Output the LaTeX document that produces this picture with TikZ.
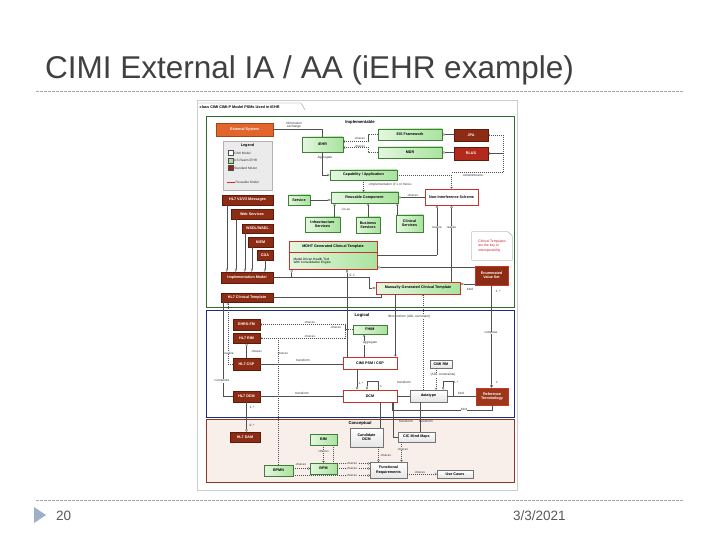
\documentclass[tikz,border=0pt]{standalone}
\usepackage{fontspec}
\setmainfont{Liberation Sans}
\usetikzlibrary{arrows.meta, positioning, calc}
\definecolor{titleGray}{HTML}{404040}
\definecolor{ruleGray}{HTML}{A6A6A6}
\definecolor{footGray}{HTML}{595959}
\definecolor{triBlue}{HTML}{9DB0C8}
\definecolor{grnLight}{HTML}{E4F7DF}
\definecolor{grnFill}{HTML}{A9E39E}
\definecolor{grnDark}{HTML}{3F7F38}
\definecolor{stdFill}{HTML}{8C2C14}
\definecolor{stdDark}{HTML}{5E1A0A}
\definecolor{rlusFill}{HTML}{B32A1C}
\definecolor{extFill}{HTML}{E2652C}
\definecolor{reuseRed}{HTML}{C8322A}
\definecolor{pkgGreen}{HTML}{2E6B2E}
\definecolor{pkgBlue}{HTML}{1E2C80}
\definecolor{pkgBrown}{HTML}{8A3A22}
\definecolor{concFill}{HTML}{F8EEEA}
\definecolor{lineGray}{HTML}{505050}
\definecolor{noteRed}{HTML}{C8202A}

\begin{document}
\begin{tikzpicture}[x=1pt, y=-1pt,
    sz/.style 2 args={minimum width=#1pt, minimum height=#2pt},
    boxfont/.style={font=\fontsize{3.7}{4.2}\selectfont\bfseries},
    lbl/.style={font=\fontsize{3.2}{3.6}\selectfont, inner sep=0.3pt, text=black!80},
    grnbox/.style={draw=grnDark, line width=0.4pt, left color=grnLight, right color=grnFill,
        boxfont, inner sep=0.5pt, align=center},
    stdbox/.style={draw=stdDark, line width=0.4pt, fill=#1, text=white, boxfont,
        inner sep=0.5pt, align=center},
    stdbox/.default=stdFill,
    cimibox/.style={draw=reuseRed, line width=0.8pt, fill=white, boxfont, inner sep=0.5pt, align=center},
    reusebox/.style={grnbox, draw=reuseRed, line width=0.8pt},
    plainbox/.style={draw=black!55, line width=0.4pt, top color=white, bottom color=black!10,
        boxfont, inner sep=0.5pt, align=center},
    pkg/.style={draw=#1, line width=0.7pt, inner sep=0pt},
    pkgname/.style={font=\fontsize{4.2}{4.7}\selectfont\bfseries, inner sep=0.5pt},
    assoc/.style={draw=lineGray, line width=0.3pt},
    dep/.style={assoc, dash pattern=on 1.2pt off 0.8pt, -{Straight Barb[length=1.6pt,width=2.4pt]}},
    real/.style={dep, -{Triangle[open,length=2.2pt,width=2.6pt]}},
    gen/.style={assoc, -{Triangle[open,length=2.2pt,width=2.6pt]}},
    aggs/.style={assoc, {Diamond[open,length=3.4pt,width=2.2pt]}-},
    agge/.style={assoc, -{Diamond[open,length=3.4pt,width=2.2pt]}},
    comp/.style={assoc, -{Diamond[length=3.4pt,width=2.4pt]}},
    rule/.style={ruleGray, line width=0.7pt, dash pattern=on 2.5pt off 1.5pt},
]
\useasboundingbox (0,0) rectangle (720,540);
\fill[white] (0,0) rectangle (720,540);

% Slide title and rules
\node[font=\fontsize{31.5}{36}\selectfont, text=titleGray, anchor=base west, inner sep=0pt]
    (title) at (45,79) {CIMI External IA / AA (iEHR example)};
\draw[rule] (36,91) -- (684,91);
\draw[rule] (36,500) -- (684,500);

% Footer
\fill[triBlue] (34,507) -- (46,515) -- (34,523) -- cycle;
\node[font=\fontsize{13.5}{16}\selectfont, text=footGray, anchor=base west, inner sep=0pt] (pgno) at (56,520) {20};
\node[font=\fontsize{13.5}{16}\selectfont, text=footGray, anchor=base west, inner sep=0pt] (date) at (513,520) {3/3/2021};

% Embedded diagram frame
\node[draw=black!20, line width=0.5pt, fill=white, sz={320}{390}, inner sep=0pt] (shot) at (357,295) {};
\node[font=\fontsize{3.8}{4.2}\selectfont\bfseries, anchor=west, inner sep=0.5pt] (tabttl) at (199,107.5)
    {class CIMI CIMI-P Model PSMs Used in iEHR};
\draw[black!50, line width=0.3pt] (198,103) -- (301,103) -- (305,110);

% Packages
\node[pkg=pkgGreen, sz={308}{191}] (pkgimpl) at (360,211.5) {};
\node[pkg=pkgBlue, sz={308}{107}] (pkglog) at (360,363.5) {};
\node[pkg=pkgBrown, fill=concFill, sz={308}{63}] (pkgconc) at (360,450.5) {};
\node[pkgname] (nmimpl) at (360,122) {Implementable};
\node[pkgname] (nmlog) at (362,315) {Logical};
\node[pkgname] (nmconc) at (360,423) {Conceptual};

% ── Implementable ─────────────────────────────────────────────
\node[stdbox=extFill, draw=extFill!70!black, sz={57}{13}] (extsys) at (244.5,129.5) {External System};
\node[grnbox, sz={41}{15}] (iehr) at (322.5,144.5) {iEHR};
\node[grnbox, sz={64}{11}] (eisfw) at (410,134.5) {EIS Framework};
\node[stdbox, sz={34}{12}] (jpa) at (471,135) {JPA};
\node[grnbox, sz={64}{11}] (mdr) at (410,152.5) {MDR};
\node[stdbox=rlusFill, sz={34}{13}] (rlus) at (471,153.5) {RLUS};
\node[grnbox, sz={67}{10}] (capapp) at (363.5,175) {Capability / Application};
\node[grnbox, sz={67}{11}] (reuse) at (364.5,197.5) {Reusable Component};
\node[grnbox, sz={22}{10}] (service) at (299,200) {Service};
\node[grnbox, sz={35}{15}] (infra) at (322.5,224.5) {Infrastructure\\Services};
\node[grnbox, sz={24}{16}] (business) at (368,225) {Business\\Services};
\node[grnbox, sz={27}{17}] (clinical) at (409.5,223.5) {Clinical\\Services};
\node[cimibox, sz={53}{16}] (nonint) at (451.5,197) {Non-Interference Scheme};

% Legend
\node[draw=black!30, fill=black!8, sz={49}{49}] (legend) at (247.5,165.5) {};
\node[boxfont] (lgttl) at (247.5,146) {Legend};
\foreach \y/\col/\txt [count=\i] in {153/white/CIMI Model, 160.5/grnFill/US Realm iEHR, 168/stdFill/Standard Model}
    \node[draw=black!70, fill=\col, sz={5}{5}, inner sep=0pt, label={[lbl, anchor=west]east:\txt}] (lg\i) at (231,\y) {};
\coordinate (lgline) at (227,182);
\draw[reuseRed, line width=0.8pt] (lgline) -- ++(8,0) node[lbl, anchor=west] (lgreuse) {Reusable Model};

% Standard models feeding the implementation model
\node[stdbox, sz={51}{10}] (hl7v2) at (247.5,200) {HL7 V2/V3 Messages};
\node[stdbox, sz={42}{10}] (websvc) at (252,214) {Web Services};
\node[stdbox, sz={31}{9}] (wsdl) at (257.5,228.5) {WSDL/WADL};
\node[stdbox, sz={25}{10}] (niem) at (260.5,242) {NIEM};
\node[stdbox, sz={16}{10}] (cda) at (265,255) {CDA};
\node[stdbox, sz={52}{11}] (implmodel) at (247,277.5) {Implementation Model};
\node[stdbox, sz={52}{9}] (hl7ct) at (247,297.5) {HL7 Clinical Template};

% Clinical templates
\node[reusebox, sz={88}{28}] (mdht) at (333,255) {};
\node[boxfont, inner sep=0.5pt] (mdhttl) at (333,247) {MDHT Generated Clinical Template};
\draw[reuseRed, line width=0.5pt] ([yshift=-12pt]mdht.north west) -- ([yshift=-12pt]mdht.north east);
\node[lbl, text=black, align=left, anchor=west] (mdhtbody) at (293,261)
    {Model Driven Health Tool\\With Consolidation Engine};
\node[reusebox, sz={84}{12}] (manual) at (418,288) {Manually Generated Clinical Template};
\node[stdbox, draw=reuseRed, line width=0.8pt, sz={33}{19}] (enumvs) at (491.5,275.5) {Enumerated\\Value Set};
\node[lbl, text=noteRed, align=left, sz={40}{28}, inner sep=1.5pt, font=\fontsize{3.4}{4.3}\selectfont]
    (keynote) at (492,246) {Clinical Templates\\are the key to\\interoperability};
\draw[black!45, line width=0.3pt] (keynote.north west) -- ([xshift=-4pt]keynote.north east)
    -- ([yshift=-4pt]keynote.north east) -- (keynote.south east) -- (keynote.south west) -- cycle;

% Connectors: Implementable
\draw[assoc] (extsys.east) -| (iehr.north);
\node[lbl, align=center, anchor=south] (lblinfo) at (294,129) {Information\\exchange};
\draw[dep] (eisfw.west) -- ++(-10,0) |- ([yshift=3pt]iehr.east);
\draw[dep] (mdr.west) -- ++(-10,0) |- ([yshift=-3pt]iehr.east);
\node[lbl] at (360,138.5) {«trace»};
\node[lbl] at (360,146) {«trace»};
\draw[aggs] (eisfw.east) -- (eisfw.east -| jpa.west);
\draw[aggs] (mdr.east) -- (mdr.east -| rlus.west);
\coordinate (jrtop) at (503,172);
\draw[dep] (jrtop) |- (jpa.east);
\draw[dep] (jrtop) |- (rlus.east);
\draw[assoc, dash pattern=on 1.2pt off 0.8pt] (nonint.north |- jrtop) -- (jrtop);
\node[lbl] at (473,175) {«downstream»};
\draw[gen] (iehr.south) |- (capapp.west);
\node[lbl, anchor=west] at (317,158) {Aggregate};
\draw[dep] (capapp.east) -| (nonint.north);
\draw[dep] (capapp.south) -- (capapp.south |- reuse.north);
\node[lbl, anchor=west] at (368,185) {«implementation of 1 or more»};
\draw[agge] (service.east) -- (service.east -| reuse.west);
\draw[gen] ([xshift=12pt]infra.north) -- ([xshift=12pt]infra.north |- reuse.south);
\draw[gen] (business.north) -- (business.north |- reuse.south);
\draw[gen] ([xshift=1.5pt]clinical.north west) -- ([xshift=1.5pt]clinical.north west |- reuse.south);
\node[lbl] at (346,209) {«is-a»};
\draw[aggs] (reuse.east) -- (reuse.east -| nonint.west);
\node[lbl] at (413,195.5) {«trace»};
\draw[real] (mdht.east) -| ([xshift=-14.5pt]nonint.south);
\draw[real] (manual.north -| nonint.south) -- (nonint.south);
\node[lbl, fill=white] at (437,227) {realize};
\node[lbl, fill=white] at (451.5,227) {realize};
\draw[aggs] ([yshift=2pt]mdht.south east) -- ([yshift=2pt]mdht.south east -| enumvs.west);
\draw[aggs] ([yshift=4pt]manual.east) -- ([yshift=4pt]manual.east -| enumvs.west);
\node[lbl] at (470,289) {bind};
\foreach \src/\dx in {hl7v2/5, websvc/5, wsdl/3, niem/4, cda/8}
    \draw[agge] ([xshift=\dx pt]\src.south west) -- ([xshift=\dx pt]\src.south west |- implmodel.north);
\draw[agge] (implmodel.east) -| ([xshift=-6pt]manual.west) -- (manual.west);
\draw[aggs] ([xshift=3pt]mdht.south west) -- ([xshift=3pt]mdht.south west |- implmodel.east);
\node[lbl, anchor=west] at (349,275) {0..1};
\draw[assoc] (hl7ct.east) -| ([xshift=6pt]manual.south west);

% ── Logical ──────────────────────────────────────────────────
\node[stdbox, sz={27}{11}] (ehrsfm) at (246.5,324.5) {EHRS-FM};
\node[stdbox, sz={27}{10}] (hl7rim) at (246.5,338) {HL7 RIM};
\node[stdbox, sz={27}{12}] (hl7csp) at (246.5,364) {HL7 CSP};
\node[stdbox, sz={27}{11}] (hl7dcm) at (246.5,396.5) {HL7 DCM};
\node[grnbox, sz={34}{9}] (fhim) at (370,329.5) {FHIM};
\node[cimibox, sz={54}{12}] (cimipsm) at (370,363) {CIMI PSM / CSP};
\node[cimibox, sz={54}{12}] (dcm) at (370,396) {DCM};
\node[plainbox, sz={37}{12}] (datatype) at (428.5,396) {datatype};
\node[plainbox, sz={22}{8}] (cimirm) at (441,364) {CIMI RM};
\node[stdbox=stdFill!80!extFill, draw=reuseRed, line width=0.8pt, sz={32}{17}] (refterm) at (492,396.5) {Reference\\Terminology};

\draw[aggs] ([xshift=14pt]mdht.south) -- ([xshift=14pt]mdht.south |- cimipsm.north);
\draw[comp] (enumvs.south) -- (enumvs.south |- refterm.north);
\node[lbl] at (498,291) {1..*};
\node[lbl] at (497,382) {1};
\node[lbl, fill=white] at (491,333) {compose};
\draw[dep] ([xshift=-5.5pt]datatype.north) -- ([xshift=-5.5pt]datatype.north |- manual.south);
\node[lbl, fill=white] at (409,317) {IM-transform (ADL constraint)};
\draw[dep] ([xshift=-2pt]cimipsm.north east |- manual.south) -- ([xshift=-2pt]cimipsm.north east);
\draw[dep] (fhim.west) -- ++(-8,0) |- (ehrsfm.east);
\draw[dep] (fhim.west) -- ++(-8,0) |- (hl7rim.east);
\node[lbl] at (310,322) {«trace»};
\node[lbl] at (310,336) {«trace»};
\node[lbl] at (336,327.5) {«trace»};
\draw[aggs] (hl7rim.south) -- (hl7csp.north);
\node[lbl, anchor=west] at (251,351) {«trace»};
\draw[real] (hl7csp.west) -| ([xshift=7pt]hl7ct.south west);
\node[lbl, fill=white] at (229,353) {realize};
\draw[assoc] ([xshift=2pt]hl7ct.south west) |- (hl7dcm.west);
\node[lbl, fill=white] at (222,381) {composite};
\draw[assoc] (hl7csp.east) -- (hl7csp.east -| cimipsm.west);
\node[lbl, anchor=south] at (303,362.5) {transform};
\node[lbl] at (283,353) {«trace»};
\draw[assoc] (hl7dcm.east) -- (hl7dcm.east -| dcm.west);
\node[lbl, anchor=south] at (302,395.5) {transform};
\draw[gen] ([xshift=-6pt]cimipsm.north) -- ([xshift=-6pt]cimipsm.north |- fhim.south);
\node[lbl, fill=white] at (370,343) {aggregate};
\draw[gen] ([xshift=-13pt]cimipsm.south) -- ([xshift=-13pt]cimipsm.south |- dcm.north);
\draw[aggs] ([xshift=-3pt]dcm.north) -- ++(0,-8) -| ([xshift=8pt]dcm.north);
\node[lbl] at (361,383) {1..*};
\node[lbl] at (381,386) {1};
\draw[assoc] (dcm.east) -- (datatype.west);
\node[lbl] at (404,382) {transform};
\draw[assoc] (datatype.east) -- (datatype.east -| refterm.west);
\node[lbl, anchor=south] at (461,395.5) {bind};
\draw[assoc] ([xshift=-5pt]dcm.south east) |- ([yshift=-5pt]refterm.south) -- (refterm.south);
\node[lbl, fill=white] at (464,409.5) {bind};
\draw[dep] ([xshift=-5pt]cimirm.south) -- ([xshift=-5pt]cimirm.south |- datatype.north);
\node[lbl, fill=white] at (443,375) {(ADL constraints)};
\draw[aggs] ([xshift=-4pt]datatype.north east) -- ++(0,-9) -- ++(10,0) |- (datatype.east);
\node[lbl] at (456,382) {1..*};

% ── Conceptual ───────────────────────────────────────────────
\node[stdbox, sz={30}{10}] (hl7dam) at (245,437) {HL7 DAM};
\node[grnbox, sz={27}{11}] (bim) at (323.5,439.5) {BIM};
\node[grnbox, sz={27}{11}] (bpm) at (323.5,468.5) {BPM};
\node[grnbox, sz={29}{11}] (bpmn) at (278.5,470.5) {BPMN};
\node[plainbox, sz={33}{19}] (canddcm) at (366.5,437.5) {Candidate\\DCM};
\node[plainbox, sz={37}{10}] (cicmm) at (416.5,437) {CIC Mind Maps};
\node[plainbox, sz={37}{16}] (funcreq) at (388.5,470) {Functional\\Requirements};
\node[plainbox, sz={36}{8}] (usecases) at (455,474) {Use Cases};

\draw[agge] (hl7dcm.south) -- (hl7dcm.south |- hl7dam.north);
\node[lbl, anchor=west] at (249,407) {1..*};
\node[lbl, anchor=west] at (249,425) {0..*};
\draw[assoc, dash pattern=on 1.2pt off 0.8pt] (bpmn.north) -- (bpmn.north |- hl7rim.east);
\draw[assoc] ([xshift=10pt]dcm.south) -- ([xshift=10pt]dcm.south |- canddcm.north);
\draw[assoc] ([xshift=23pt]dcm.south) |- (cicmm.west);
\draw[assoc] ([xshift=-8pt]datatype.south) -- ([xshift=-8pt]datatype.south |- cicmm.north);
\node[lbl] at (406,421) {transform};
\node[lbl] at (426,421) {transform};
\draw[dep] (bim.south) -- (bpm.north);
\node[lbl, fill=concFill] at (323.5,451) {«trace»};
\draw[dep] (bpm.west -| bpmn.east) -- (bpm.west);
\node[lbl] at (301,464) {«trace»};
\draw[dep] ([xshift=-4pt]bim.south east) |- ([yshift=6.5pt]funcreq.west);
\draw[dep] (bpm.east) -- (bpm.east -| funcreq.west);
\draw[dep] ([yshift=-5pt]bpmn.east) -- ([yshift=-5pt]bpmn.east -| funcreq.west);
\node[lbl, fill=concFill] at (352,463.5) {«trace»};
\node[lbl, fill=concFill] at (352,468.5) {«trace»};
\node[lbl, fill=concFill] at (352,475.5) {«trace»};
\draw[dep] ([xshift=12pt]canddcm.south) -- ([xshift=12pt]canddcm.south |- funcreq.north);
\draw[dep] ([xshift=-15pt]cicmm.south) -- ([xshift=-15pt]cicmm.south |- funcreq.north);
\node[lbl, fill=concFill] at (386,455) {«trace»};
\node[lbl, fill=concFill] at (403,449) {«trace»};
\draw[dep] (usecases.west -| funcreq.east) -- (usecases.west);
\node[lbl, fill=concFill] at (420,472) {«trace»};

\end{tikzpicture}
\end{document}
